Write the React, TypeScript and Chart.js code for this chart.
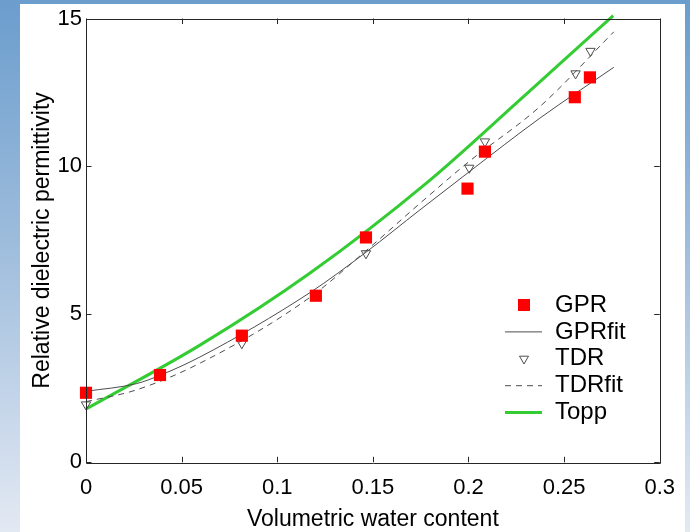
import React, { useEffect, useRef } from 'react';
import { Chart, registerables } from 'chart.js';

Chart.register(...registerables);

// ---- data ----
const gprTheta = [0, 0.0387, 0.0815, 0.1202, 0.1464, 0.1995, 0.2086, 0.2556, 0.2635];
const gprEps = [2.35, 2.95, 4.28, 5.63, 7.6, 9.25, 10.5, 12.34, 13.01];

const tdrTheta = [0, 0.0815, 0.1464, 0.2004, 0.2086, 0.256, 0.2638];
const tdrEps = [1.95, 4.02, 7.06, 9.95, 10.84, 13.14, 13.9];

const gprFitTheta = [0, 0.0265, 0.0387, 0.0596, 0.117, 0.1464, 0.1746, 0.2, 0.2373, 0.276];
const gprFitEps = [2.4, 2.66, 2.94, 3.56, 5.73, 7.1, 8.53, 9.8, 11.63, 13.35];

const tdrFitTheta = [0, 0.026, 0.0596, 0.117, 0.1464, 0.1746, 0.2, 0.2373, 0.276];
const tdrFitEps = [2.05, 2.44, 3.35, 5.57, 7.15, 8.75, 10.15, 12.02, 14.55];

const toppTheta = [0, 0.0596, 0.117, 0.1788, 0.2269, 0.2757];
const toppEps = [1.8, 3.96, 6.39, 9.48, 12.25, 15.1];

const xTickLabels = ['0', '0.05', '0.1', '0.15', '0.2', '0.25', '0.3'];
const yTickLabels = ['0', '5', '10', '15'];

const seriesNames = ['GPR', 'GPRfit', 'TDR', 'TDRfit', 'Topp'];
const xTitle = 'Volumetric water content';
const yTitle = 'Relative dielectric permittivity';

// ---- layout / style ----
const W = 690;
const H = 532;
const PLOT_LEFT = 86;
const PLOT_TOP = 18.5;
const PLOT_RIGHT = 660.7;
const PLOT_BOTTOM = 462.3;
const FONT = '"Liberation Sans", Arial, Helvetica, sans-serif';
const AXIS_COLOR = '#262626';
const RED = '#ff0000';
const GRAY = '#4d4d4d';
const GREEN = '#33cc33';

const pts = (xs: number[], ys: number[]) => xs.map((x, i) => ({ x, y: ys[i] }));

const boxAndTicks = {
  id: 'boxAndTicks',
  afterDraw(chart: any) {
    const { ctx, chartArea: a, scales } = chart;
    const xs = scales.x;
    const ys = scales.y;
    ctx.save();
    ctx.strokeStyle = AXIS_COLOR;
    ctx.lineWidth = 1;
    ctx.beginPath();
    const tl = 5.5;
    xs.ticks.forEach((t: any) => {
      const px = Math.round(xs.getPixelForValue(t.value)) + 0.5;
      ctx.moveTo(px, a.bottom);
      ctx.lineTo(px, a.bottom - tl);
      ctx.moveTo(px, a.top);
      ctx.lineTo(px, a.top + tl);
    });
    ys.ticks.forEach((t: any) => {
      const py = Math.round(ys.getPixelForValue(t.value)) + 0.5;
      ctx.moveTo(a.left, py);
      ctx.lineTo(a.left + tl, py);
      ctx.moveTo(a.right, py);
      ctx.lineTo(a.right - tl, py);
    });
    ctx.stroke();
    ctx.beginPath();
    ctx.rect(Math.round(a.left) + 0.5, Math.round(a.top) + 0.5, Math.round(a.right - a.left), Math.round(a.bottom - a.top));
    ctx.stroke();

    // legend
    const lx0 = 505;
    const lx1 = 542;
    const mx = 524;
    const tx = 555;
    const y0 = 305;
    const dy = 26.9;
    ctx.font = `24px ${FONT}`;
    ctx.textBaseline = 'middle';
    ctx.textAlign = 'left';
    chart.data.datasets.forEach((ds: any, i: number) => {
      const y = y0 + i * dy;
      ctx.save();
      if (i === 0) {
        ctx.fillStyle = RED;
        ctx.fillRect(mx - 6, y - 6, 12, 12);
      } else if (i === 2) {
        ctx.strokeStyle = GRAY;
        ctx.lineWidth = 1;
        const r = 5.2;
        ctx.beginPath();
        ctx.moveTo(mx, y + r);
        ctx.lineTo(mx - r * 0.866, y - r * 0.5);
        ctx.lineTo(mx + r * 0.866, y - r * 0.5);
        ctx.closePath();
        ctx.stroke();
      } else {
        ctx.strokeStyle = ds.borderColor;
        ctx.lineWidth = ds.borderWidth;
        ctx.setLineDash(ds.borderDash || []);
        ctx.beginPath();
        ctx.moveTo(lx0, y);
        ctx.lineTo(lx1, y);
        ctx.stroke();
      }
      ctx.restore();
      ctx.fillStyle = '#000';
      ctx.fillText(ds.label, tx, y);
    });
    ctx.restore();
  },
};

export default function App() {
  const ref = useRef<HTMLCanvasElement | null>(null);

  useEffect(() => {
    if (!ref.current) return;
    const chart = new Chart(ref.current, {
      type: 'scatter',
      data: {
        datasets: [
          {
            label: seriesNames[0],
            data: pts(gprTheta, gprEps),
            showLine: false,
            pointStyle: 'rect',
            pointRadius: 8.6,
            pointBackgroundColor: RED,
            pointBorderWidth: 0,
            borderColor: RED,
            backgroundColor: RED,
            clip: false,
          },
          {
            label: seriesNames[1],
            data: pts(gprFitTheta, gprFitEps),
            showLine: true,
            pointRadius: 0,
            borderColor: GRAY,
            borderWidth: 1,
            cubicInterpolationMode: 'monotone',
          },
          {
            label: seriesNames[2],
            data: pts(tdrTheta, tdrEps),
            showLine: false,
            pointStyle: 'triangle',
            rotation: 180,
            pointRadius: 5.4,
            pointBackgroundColor: 'rgba(0,0,0,0)',
            pointBorderColor: GRAY,
            pointBorderWidth: 1,
            borderColor: GRAY,
            clip: false,
          },
          {
            label: seriesNames[3],
            data: pts(tdrFitTheta, tdrFitEps),
            showLine: true,
            pointRadius: 0,
            borderColor: GRAY,
            borderWidth: 1,
            borderDash: [6, 5],
            cubicInterpolationMode: 'monotone',
          },
          {
            label: seriesNames[4],
            data: pts(toppTheta, toppEps),
            showLine: true,
            pointRadius: 0,
            borderColor: GREEN,
            borderWidth: 3,
            cubicInterpolationMode: 'monotone',
            clip: false,
          },
        ] as any,
      },
      options: {
        animation: false,
        responsive: false,
        devicePixelRatio: 1,
        layout: {
          padding: { left: 0, top: PLOT_TOP, right: W - PLOT_RIGHT, bottom: 0 },
        },
        plugins: {
          legend: { display: false },
          tooltip: { enabled: false },
        },
        scales: {
          x: {
            type: 'linear',
            min: 0,
            max: 0.3,
            afterFit: (s: any) => {
              s.height = H - PLOT_BOTTOM;
            },
            ticks: {
              stepSize: 0.05,
              padding: 15,
              color: '#000',
              font: { family: FONT, size: 22, lineHeight: 1 },
              maxRotation: 0,
              autoSkip: false,
              callback: (_v: any, i: number) => xTickLabels[i],
            },
            grid: { display: false, drawTicks: false },
            border: { display: false },
            title: {
              display: true,
              text: xTitle,
              color: '#000',
              font: { family: FONT, size: 23, lineHeight: 1 },
              padding: { top: 0, bottom: 0.5 },
            },
          },
          y: {
            type: 'linear',
            min: 0,
            max: 15,
            afterFit: (s: any) => {
              s.width = PLOT_LEFT;
            },
            ticks: {
              stepSize: 5,
              padding: 4,
              color: '#000',
              font: { family: FONT, size: 22, lineHeight: 1 },
              autoSkip: false,
              callback: (_v: any, i: number) => yTickLabels[i],
            },
            grid: { display: false, drawTicks: false },
            border: { display: false },
            title: {
              display: true,
              text: yTitle,
              color: '#000',
              font: { family: FONT, size: 23, lineHeight: 1 },
              padding: { top: 31.5, bottom: 0 },
            },
          },
        },
      } as any,
      plugins: [boxAndTicks],
    });
    return () => chart.destroy();
  }, []);

  return (
    <div
      style={{
        position: 'absolute',
        left: 0,
        top: 0,
        width: W,
        height: H,
        background: 'linear-gradient(to bottom, #6b9dcd 0%, #9dbcdc 45%, #e3e9f3 100%)',
        overflow: 'hidden',
      }}
    >
      <div style={{ position: 'absolute', left: 20, top: 4, width: 665, height: H - 4, background: '#ffffff' }} />
      <canvas ref={ref} width={W} height={H} style={{ position: 'absolute', left: 0, top: 0, width: W, height: H }} />
    </div>
  );
}
